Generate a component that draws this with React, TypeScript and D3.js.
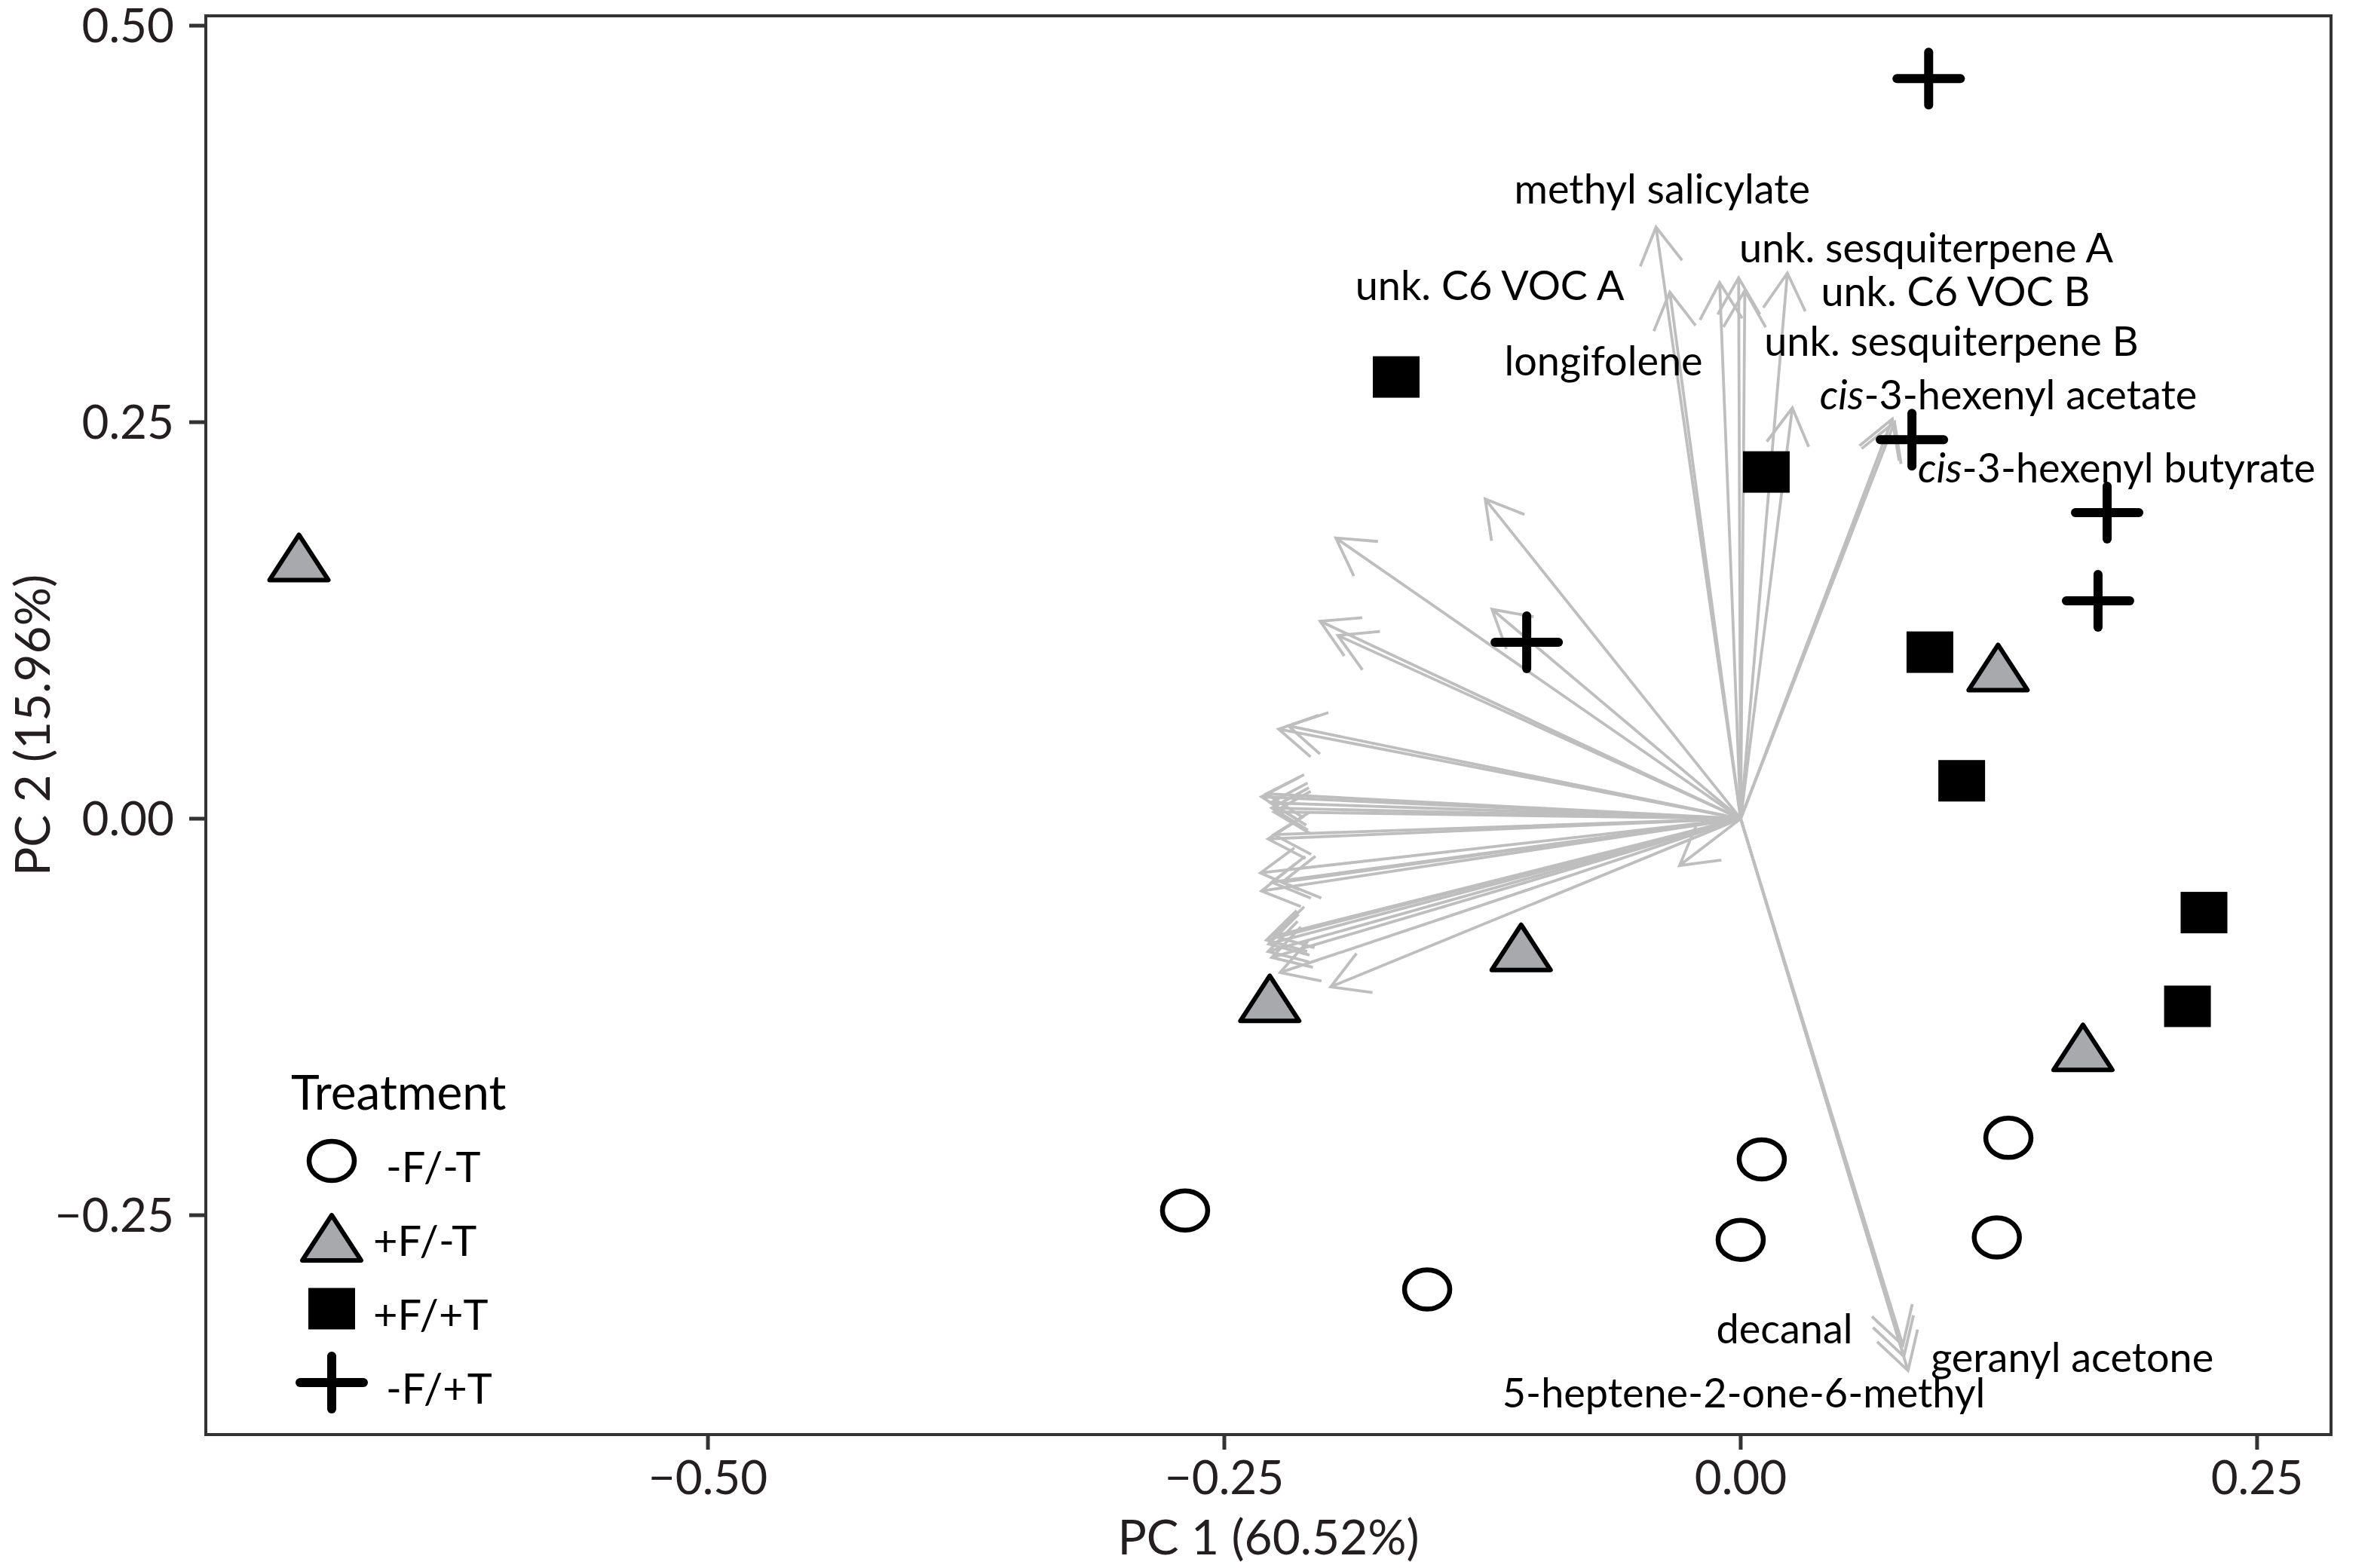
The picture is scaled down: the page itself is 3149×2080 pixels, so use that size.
import * as d3 from "d3";
import React from "react";

// PCA scores per treatment (PC1, PC2)
const circleX = [-0.269, -0.1518, 0.0102, 0.0, 0.1296, 0.124]
const circleY = [-0.247, -0.2968, -0.2148, -0.2655, -0.2012, -0.264]
const triangleX = [-0.698, -0.228, -0.1063, 0.1246, 0.1657]
const triangleY = [0.160, -0.118, -0.0859, 0.0906, -0.1489]
const squareX = [-0.1668, 0.0124, 0.0916, 0.107, 0.2243, 0.2163]
const squareY = [0.2785, 0.2186, 0.105, 0.0239, -0.0592, -0.1183]
const plusX = [0.091, 0.0829, 0.1774, 0.173, -0.1036]
const plusY = [0.4666, 0.239, 0.193, 0.1374, 0.1112]

// VOC loadings (arrow tips)
const loadX = [
  -0.1237, -0.196, -0.2036, -0.195, -0.1204, -0.2237, -0.219,
  -0.232, -0.2296, -0.2277, -0.227, -0.226, -0.2288, -0.226,
  -0.2325, -0.232, -0.227, -0.222,
  -0.2296, -0.2288, -0.227, -0.223, -0.226, -0.2285,
  -0.1985, -0.0296,
  -0.041, -0.0343, -0.0102, -0.001, 0.002, 0.0226, 0.025, 0.0734, 0.0745,
  0.0785, 0.079, 0.081,
]
const loadY = [
  0.2015, 0.177, 0.1245, 0.1155, 0.132, 0.0565, 0.0585,
  0.0138, 0.0157, 0.010, 0.0067, 0.0043, -0.0128, -0.010,
  -0.0342, -0.0456, -0.040, -0.040,
  -0.0765, -0.0837, -0.0875, -0.097, -0.074, -0.079,
  -0.106, -0.0295,
  0.373, 0.332, 0.338, 0.341, 0.333, 0.344, 0.259, 0.252, 0.250,
  -0.332, -0.339, -0.348,
]

// VOC labels (centre x, baseline y in PC units)
const vocNames = [
  "methyl salicylate", "unk. sesquiterpene A", "unk. C6 VOC B", "unk. sesquiterpene B",
  "cis-3-hexenyl acetate", "cis-3-hexenyl butyrate", "unk. C6 VOC A", "longifolene",
  "decanal", "geranyl acetone", "5-heptene-2-one-6-methyl",
]
const vocX = [-0.038, 0.0898, 0.104, 0.102, 0.1296, 0.182, -0.1215, -0.0664, 0.0212, 0.1605, 0.0015]
const vocY = [0.388, 0.351, 0.323, 0.292, 0.258, 0.212, 0.327, 0.2795, -0.331, -0.349, -0.371]

const xTicks = [-0.5, -0.25, 0, 0.25]
const yTicks = [-0.25, 0, 0.25, 0.5]
const legendLabels = ["-F/-T", "+F/-T", "+F/+T", "-F/+T"]
const legendShapes = ["circle", "triangle", "square", "plus"]

const W = 3149
const H = 2080
const font = "Lato, 'Open Sans', sans-serif"
const ink = "#231f20"
const arrowCol = "#bebebe"

const x = d3.scaleLinear().domain([-0.7431, 0.2858]).range([273, 3092])
const y = d3.scaleLinear().domain([-0.3883, 0.5062]).range([1903, 21])

const fmt = (v: number) => (v < 0 ? "\u2212" : "") + d3.format(".2f")(Math.abs(v))

function Shape({ type, cx, cy }: { type: string, cx: number, cy: number }) {
  if (type === "circle")
    return <ellipse cx={cx} cy={cy} rx={30} ry={26} fill="white" stroke="black" strokeWidth={6.5} />
  if (type === "triangle") {
    const R = 40, hw = 39
    const pts = [[cx, cy - R], [cx + hw, cy + R / 2], [cx - hw, cy + R / 2]]
    return <polygon points={pts.map(p => p.join(",")).join(" ")} fill="#a7a9ac" stroke="black"
      strokeWidth={6} strokeLinejoin="round" />
  }
  if (type === "square")
    return <rect x={cx - 31} y={cy - 27.5} width={62} height={55} fill="black" />
  return (
    <g stroke="black" strokeWidth={12} strokeLinecap="round">
      <line x1={cx - 42} x2={cx + 42} y1={cy} y2={cy} />
      <line x1={cx} x2={cx} y1={cy - 35} y2={cy + 35} />
    </g>
  )
}

function Arrow({ tx, ty }: { tx: number, ty: number }) {
  const x0 = x(0), y0 = y(0), x1 = x(tx), y1 = y(ty)
  const a = Math.atan2(y1 - y0, x1 - x0)
  const len = 56, spread = Math.PI / 6
  const p = d3.path()
  p.moveTo(x0, y0)
  p.lineTo(x1, y1)
  p.moveTo(x1 - len * Math.cos(a - spread), y1 - len * Math.sin(a - spread))
  p.lineTo(x1, y1)
  p.lineTo(x1 - len * Math.cos(a + spread), y1 - len * Math.sin(a + spread))
  return <path d={p.toString()} fill="none" stroke={arrowCol} strokeWidth={3.8} />
}

function VocLabel({ name, lx, ly }: { name: string, lx: number, ly: number }) {
  const italic = name.startsWith("cis-")
  return (
    <text x={x(lx)} y={y(ly)} textAnchor="middle" fontSize={54} fontFamily={font} fill="black">
      {italic ? <><tspan fontStyle="italic">cis</tspan>{name.slice(3)}</> : name}
    </text>
  )
}

export default function App() {
  const [left, right] = x.range()
  const [bottom, top] = y.range()
  return (
    <div style={{ position: "absolute", left: 0, top: 0 }}>
      <svg width={W} height={H} style={{ display: "block", background: "white" }}>
        {/* arrows */}
        {loadX.map((lx, i) => <Arrow key={"a" + i} tx={lx} ty={loadY[i]} />)}

        {/* scores */}
        {circleX.map((v, i) => <Shape key={"c" + i} type="circle" cx={x(v)} cy={y(circleY[i])} />)}
        {triangleX.map((v, i) => <Shape key={"t" + i} type="triangle" cx={x(v)} cy={y(triangleY[i])} />)}
        {squareX.map((v, i) => <Shape key={"s" + i} type="square" cx={x(v)} cy={y(squareY[i])} />)}
        {plusX.map((v, i) => <Shape key={"p" + i} type="plus" cx={x(v)} cy={y(plusY[i])} />)}

        {/* VOC labels */}
        {vocNames.map((n, i) => <VocLabel key={n} name={n} lx={vocX[i]} ly={vocY[i]} />)}

        {/* panel border */}
        <rect x={left} y={top} width={right - left} height={bottom - top} fill="none" stroke="#333" strokeWidth={4} />

        {/* x axis */}
        {xTicks.map(t => (
          <g key={"xt" + t}>
            <line x1={x(t)} x2={x(t)} y1={bottom} y2={bottom + 20} stroke="#333" strokeWidth={5} />
            <text x={x(t)} y={bottom + 79} textAnchor="middle" fontSize={62} fontFamily={font} fill={ink}>{fmt(t)}</text>
          </g>
        ))}
        <text x={(left + right) / 2} y={2062} textAnchor="middle" fontSize={64} fontFamily={font} fill={ink}>PC 1 (60.52%)</text>

        {/* y axis */}
        {yTicks.map(t => (
          <g key={"yt" + t}>
            <line x1={left - 22} x2={left} y1={y(t)} y2={y(t)} stroke="#333" strokeWidth={5} />
            <text x={left - 42} y={y(t) + 22} textAnchor="end" fontSize={62} fontFamily={font} fill={ink}>{fmt(t)}</text>
          </g>
        ))}
        <text transform={`translate(66, ${(top + bottom) / 2}) rotate(-90)`} textAnchor="middle" fontSize={64}
          fontFamily={font} fill={ink}>PC 2 (15.96%)</text>

        {/* legend */}
        <text x={386} y={1472} fontSize={64} fontFamily={font} fill="black">Treatment</text>
        {legendLabels.map((lab, i) => {
          const cy = 1540 + i * 98
          return (
            <g key={lab}>
              <Shape type={legendShapes[i]} cx={440} cy={legendShapes[i] === "triangle" ? cy + 14 : cy} />
              <text x={lab.startsWith("+") ? 495 : 512} y={cy + 28} fontSize={56} fontFamily={font} fill="black">{lab}</text>
            </g>
          )
        })}
      </svg>
    </div>
  );
}
